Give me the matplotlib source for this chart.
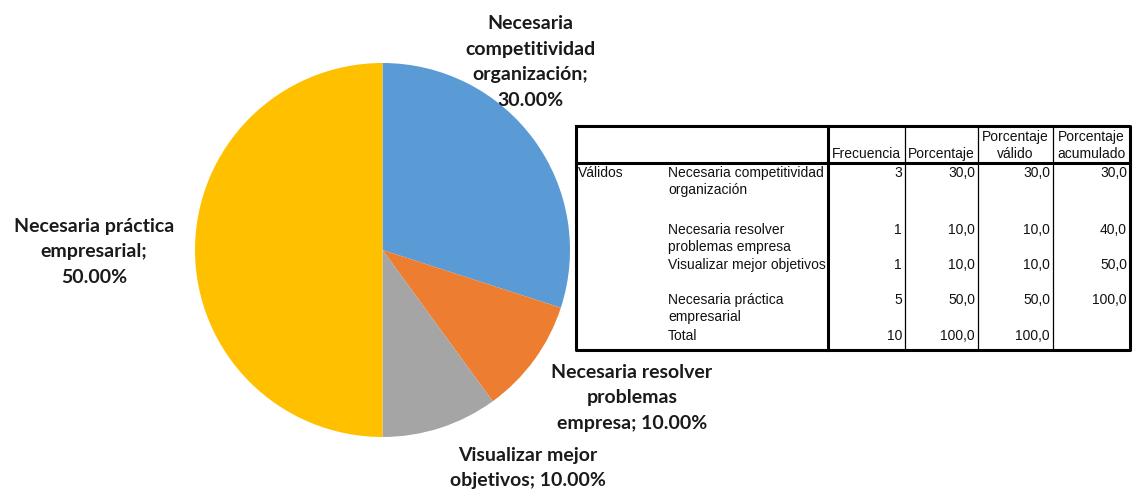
import matplotlib.pyplot as plt

# pie data
labels = ["Necesaria\ncompetitividad\norganización;\n30.00%",
          "Necesaria resolver\nproblemas\nempresa; 10.00%",
          "Visualizar mejor\nobjetivos; 10.00%",
          "Necesaria práctica\nempresarial;\n50.00%"]
shares = [30, 10, 10, 50]
colors = ["#5B9BD5", "#ED7D31", "#A5A5A5", "#FFC000"]

# table data
row_names = ["Necesaria competitividad\norganización",
             "Necesaria resolver\nproblemas empresa",
             "Visualizar mejor objetivos",
             "Necesaria práctica\nempresarial",
             "Total"]
frecuencia = [3, 1, 1, 5, 10]
porcentaje = [30.0, 10.0, 10.0, 50.0, 100.0]
valido = [30.0, 10.0, 10.0, 50.0, 100.0]
acumulado = [30.0, 40.0, 50.0, 100.0, None]
headers = ["Frecuencia", "Porcentaje", "Porcentaje\nválido", "Porcentaje\nacumulado"]

W, H = 1134, 491
fig = plt.figure(figsize=(W / 100, H / 100), dpi=100)

# pie
ax_pie = fig.add_axes([195 / W, (H - 437) / H, 375 / W, 374 / H])
ax_pie.pie(shares, colors=colors, startangle=90, counterclock=False,
           wedgeprops=dict(linewidth=0))
ax_pie.set_aspect("auto")
ax_pie.set_xlim(-1, 1)
ax_pie.set_ylim(-1, 1)
ax_pie.axis("off")

# overlay in pixel coordinates
ax = fig.add_axes([0, 0, 1, 1])
ax.set_xlim(0, W)
ax.set_ylim(H, 0)
ax.axis("off")
ax.patch.set_alpha(0)

lab_font = dict(family=["Lato", "DejaVu Sans"], fontsize=14, fontweight="bold",
                color="#1a1a1a", ha="center", va="center", linespacing=1.62)
lab_pos = [(530, 62), (632, 398), (528, 468), (94, 252)]
for txt, (x, y) in zip(labels, lab_pos):
    ax.text(x, y, txt, **lab_font)

# table
tf = dict(family=["Liberation Sans", "DejaVu Sans"], fontsize=10.0, color="#111111")
x0, x1 = 576, 1130
y0, yh, y1 = 126, 163, 350
cols = [828, 905, 978, 1053, 1130]
ax.plot([x0, x1, x1, x0, x0], [y0, y0, y1, y1, y0], color="black", lw=2.2)
ax.plot([x0, x1], [yh, yh], color="black", lw=2.2)
ax.plot([cols[0], cols[0]], [y0, y1], color="black", lw=2.2)
for c in cols[1:-1]:
    ax.plot([c, c], [y0, y1], color="black", lw=0.9)

for i, h in enumerate(headers):
    cx = (cols[i] + cols[i + 1]) / 2
    ax.text(cx, 161, h, ha="center", va="bottom", linespacing=1.3, **tf)

ax.text(578, 166, "Válidos", ha="left", va="top", **tf)
row_tops = [166, 223, 258, 293, 329]
for k, name in enumerate(row_names):
    y = row_tops[k]
    ax.text(668, y, name, ha="left", va="top", linespacing=1.3, **tf)
    vals = [str(frecuencia[k]),
            f"{porcentaje[k]:.1f}".replace(".", ","),
            f"{valido[k]:.1f}".replace(".", ","),
            "" if acumulado[k] is None else f"{acumulado[k]:.1f}".replace(".", ",")]
    for j, v in enumerate(vals):
        ax.text(cols[j + 1] - 3, y, v, ha="right", va="top", **tf)

fig.savefig("out.png", dpi=100)
